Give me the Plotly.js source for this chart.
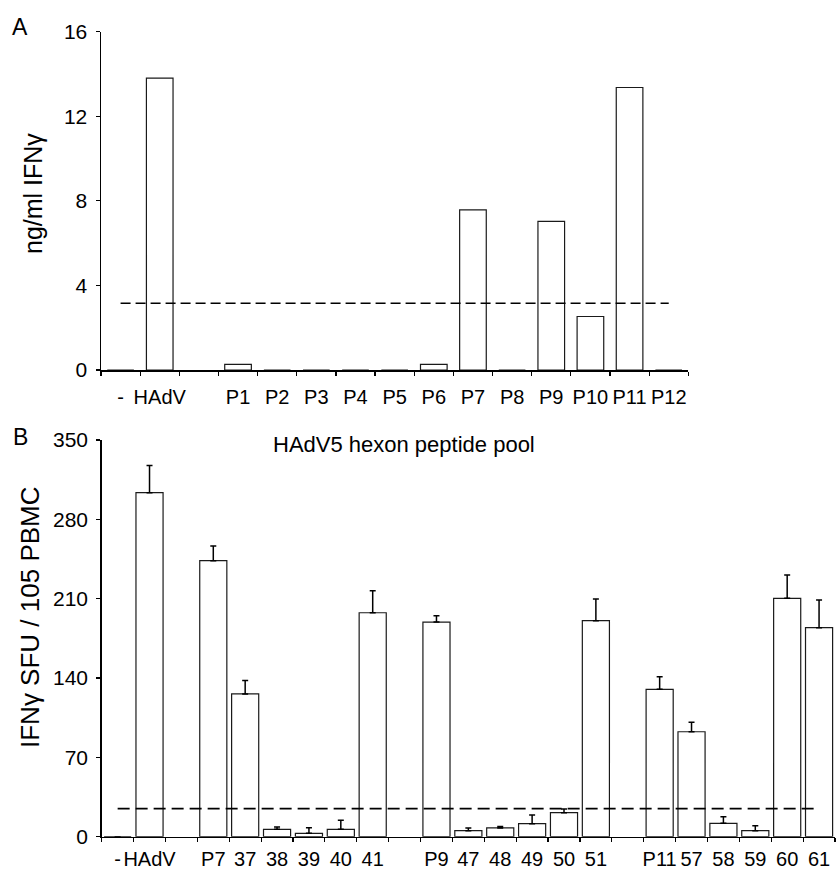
<!DOCTYPE html>
<html>
<head>
<meta charset="utf-8">
<script src="https://cdn.plot.ly/plotly-3.0.1.min.js"></script>
<style>
html,body{margin:0;padding:0;background:#fff;}
#chart{width:838px;height:871px;}
</style>
</head>
<body>
<div id="chart"></div>
<script>
// Panel A: IFN-gamma secretion (ng/ml) per peptide pool
var categoriesA = ["-", "HAdV", " ", "P1", "P2", "P3", "P4", "P5", "P6", "P7", "P8", "P9", "P10", "P11", "P12"];
var valuesA     = [0, 13.8, null, 0.27, 0, 0, 0, 0, 0.27, 7.57, 0, 7.03, 2.53, 13.36, 0];
var thresholdA  = 3.16;

// Panel B: IFN-gamma SFU / 10^5 PBMC per pool and single peptide
var categoriesB = ["-", "HAdV", " ", "P7", "37", "38", "39", "40", "41", "  ", "P9", "47", "48", "49", "50", "51", "   ", "P11", "57", "58", "59", "60", "61"];
var valuesB     = [0, 303.5, null, 243.5, 126, 6.5, 3, 6.5, 197.6, null, 189.4, 5.3, 7.7, 11.5, 21.2, 190.6, null, 130, 92.6, 11.8, 5.3, 210.3, 184.4];
var errorsB     = [0, 24, null, 13, 11.8, 2, 5, 8, 19.4, null, 5.6, 2.4, 1.2, 7.6, 3.2, 19.1, null, 11.2, 8.3, 5.9, 4.4, 20.6, 24.4];
var thresholdB  = 24.7;

var W = 838, H = 871;
var FONT = "Liberation Sans, Arial, sans-serif";

var zerosB = errorsB.map(function(){ return 0; });

var traces = [
  {
    type: "bar", x: categoriesA, y: valuesA, xaxis: "x", yaxis: "y",
    width: 0.68,
    marker: {color: "#ffffff", line: {color: "#1a1a1a", width: 1.2}},
    hoverinfo: "x+y", showlegend: false
  },
  {
    type: "scatter", mode: "lines", xaxis: "x", yaxis: "y",
    x: [categoriesA[0], categoriesA[categoriesA.length - 1]],
    y: [thresholdA, thresholdA],
    line: {color: "#000", width: 1.5, dash: "10px,5px"},
    hoverinfo: "skip", showlegend: false
  },
  {
    type: "bar", x: categoriesB, y: valuesB, xaxis: "x2", yaxis: "y2",
    width: 0.85,
    marker: {color: "#ffffff", line: {color: "#1a1a1a", width: 1.2}},
    error_y: {type: "data", symmetric: false, array: errorsB, arrayminus: zerosB,
              color: "#000", thickness: 1.5, width: 3},
    hoverinfo: "x+y", showlegend: false
  },
  {
    type: "scatter", mode: "lines", xaxis: "x2", yaxis: "y2",
    x: [categoriesB[0], categoriesB[categoriesB.length - 1]],
    y: [thresholdB, thresholdB],
    line: {color: "#000", width: 1.8, dash: "12px,6px"},
    hoverinfo: "skip", showlegend: false
  }
];

function xdom(a, b) { return [a / W, b / W]; }
function ydom(bottomPx, topPx) { return [(H - bottomPx) / H, (H - topPx) / H]; }

var xBase = {
  type: "category", showgrid: false, zeroline: false, showline: true,
  linecolor: "#000", linewidth: 1.5, ticks: "outside", ticklen: 4,
  tickwidth: 1.2, tickcolor: "#000", tickson: "boundaries", tickangle: 0,
  tickfont: {family: FONT, size: 20, color: "#000"},
  automargin: false, fixedrange: true
};
var yBase = {
  showgrid: false, zeroline: false, showline: true,
  linecolor: "#000", linewidth: 1.5, ticks: "outside", ticklen: 4,
  tickwidth: 1.2, tickcolor: "#000", tickangle: 0,
  tickfont: {family: FONT, size: 21, color: "#000"},
  automargin: false, fixedrange: true
};

var layout = {
  width: W, height: H,
  margin: {l: 0, r: 0, t: 0, b: 0},
  paper_bgcolor: "#fff", plot_bgcolor: "rgba(0,0,0,0)",
  font: {family: FONT, color: "#000"},
  bargap: 0,
  xaxis: Object.assign({}, xBase, {
    domain: xdom(101, 688.3), anchor: "y",
    range: [-0.5, categoriesA.length - 0.5],
    categoryorder: "array", categoryarray: categoriesA,
    ticklabelstandoff: 8
  }),
  yaxis: Object.assign({}, yBase, {
    domain: ydom(370, 31.7), anchor: "x",
    range: [0, 16], tickvals: [0, 4, 8, 12, 16],
    ticklabelstandoff: 4
  }),
  xaxis2: Object.assign({}, xBase, {
    domain: xdom(101.7, 835), anchor: "y2",
    range: [-0.5, categoriesB.length - 0.5],
    categoryorder: "array", categoryarray: categoriesB,
    ticklabelstandoff: 4
  }),
  yaxis2: Object.assign({}, yBase, {
    domain: ydom(836.7, 440), anchor: "x2",
    range: [0, 350], tickvals: [0, 70, 140, 210, 280, 350],
    ticklabelstandoff: 4
  }),
  annotations: [
    {text: "A", xref: "paper", yref: "paper", x: 20 / W, y: (H - 27) / H,
     xanchor: "center", yanchor: "middle", showarrow: false,
     font: {family: FONT, size: 23, color: "#000"}},
    {text: "B", xref: "paper", yref: "paper", x: 20 / W, y: (H - 437) / H,
     xanchor: "center", yanchor: "middle", showarrow: false,
     font: {family: FONT, size: 23, color: "#000"}},
    {text: "HAdV5 hexon peptide pool", xref: "paper", yref: "paper",
     x: 404 / W, y: (H - 445) / H, xanchor: "center", yanchor: "middle",
     showarrow: false, font: {family: FONT, size: 22, color: "#000"}},
    {text: "ng/ml IFNγ", xref: "paper", yref: "paper", textangle: -90,
     x: 33 / W, y: (H - 194) / H, xanchor: "center", yanchor: "middle",
     showarrow: false, font: {family: FONT, size: 25, color: "#000"}},
    {text: "IFNγ SFU / 105 PBMC", xref: "paper", yref: "paper", textangle: -90,
     x: 30 / W, y: (H - 617) / H, xanchor: "center", yanchor: "middle",
     showarrow: false, font: {family: FONT, size: 26, color: "#000"}}
  ]
};

Plotly.newPlot("chart", traces, layout, {staticPlot: true, displayModeBar: false});
</script>
</body>
</html>
